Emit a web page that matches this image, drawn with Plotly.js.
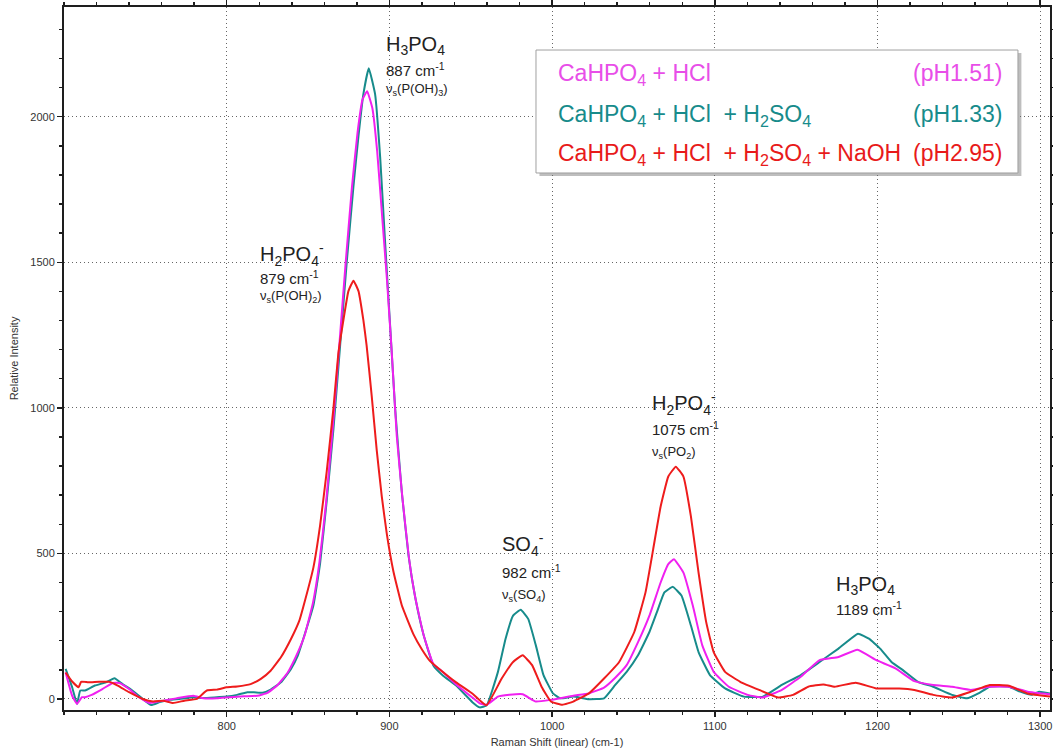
<!DOCTYPE html>
<html>
<head>
<meta charset="utf-8">
<script src="https://cdn.plot.ly/plotly-3.0.1.min.js"></script>
<style>html,body{margin:0;padding:0;background:#fff;}#chart{width:1053px;height:751px;}</style>
</head>
<body>
<div id="chart"></div>
<script>
// ---- Data ----
const seriesNames = ["CaHPO4 + HCl (pH1.51)", "CaHPO4 + HCl + H2SO4 (pH1.33)", "CaHPO4 + HCl + H2SO4 + NaOH (pH2.95)"];

const tealX = [
  701,705,708,710,713,719,725.7,731,736,742,
  748.4,753.6,758.8,765,771,779.5,785.7,794,800,806.4,
  812.6,816.8,822,827,833.3,839.5,843.7,847.1,853.3,857.4,
  861.5,865.6,869.7,873.8,877.9,881,884,887.3,891.2,894.3,
  897.3,900.4,903.5,907.6,911.7,915.8,920.9,927,933,941,
  951,955.5,959.8,966.7,971.4,976,980.7,985.3,990,994.7,
  1000.5,1005,1013,1022.6,1031.9,1038.8,1045.8,1052.8,1059.8,1064.4,
  1069,1074.2,1079.5,1085.3,1090,1097,1106.3,1117.9,1129.5,1141.2,
  1152.8,1164.4,1176,1188,1194.7,1201.6,1208.6,1215.6,1224.9,1234.2,
  1245.8,1255,1262,1269,1280.7,1287.7,1294.7,1299.3,1306
];
const tealY = [
  103,40,-17,29,29,46,57,71,51,29,
  0,-21,-11,-3,0,6,3,6,8,14,
  23,23,21,32,57,103,149,207,322,466,
  682,927,1214,1502,1761,1934,2078,2167,2078,1862,
  1574,1286,999,711,495,351,222,115,80,46,
  -11,-29,-22,93,207,286,306,275,184,82,
  19,2,8,-1,2,48,93,150,230,298,
  366,385,355,252,161,82,36,8,8,48,
  82,127,173,224,207,173,127,99,59,42,
  14,2,19,42,42,25,14,25,19
];

const magentaX = [
  701,705,708,711,713,717,723.6,730,734,740,
  746,752.6,761,769,779.5,785.7,794,802,810.6,818.8,
  825,831,837.5,843.7,847.8,853,857,861,865,869,
  873,877,880.5,883.5,886.3,889.5,892.5,895.5,898.5,901.5,
  904.5,908,912,916,921,927,933,941,951,955.5,
  959.8,966.7,973.7,981.9,990,999.3,1013,1022.6,1031.9,1038.8,
  1045.8,1052.8,1059.8,1066.7,1071.4,1074.9,1080.7,1086.5,1092.3,1099.3,
  1108.6,1120.2,1129.5,1141.2,1152.8,1164.4,1176,1187.7,1199.3,1211,
  1222.6,1234.2,1245.8,1257.4,1269,1280.7,1292.3,1306
];
const magentaY = [
  91,11,-17,6,6,14,34,55,55,34,
  6,-14,-6,2,11,2,2,6,9,11,
  21,46,91,160,217,330,470,670,920,1200,
  1490,1760,1950,2060,2088,2030,1880,1660,1440,1185,
  905,690,485,345,220,120,92,50,5,-15,
  -20,8,14,16,-9,-3,11,19,39,73,
  116,195,286,400,463,480,434,320,184,93,
  42,14,5,31,76,133,144,169,133,105,
  61,48,42,31,42,42,25,16
];

const redX = [
  701,705,709,710.5,715,721.5,727.7,733,740,748.4,
  754.7,761,767,774,781.6,787.8,794,800,806.4,814.7,
  821,827,833.3,839.5,844.7,847,853.3,857.4,861.5,865.6,
  868.6,871.7,874.8,877.9,881,884,886,889.1,892.2,895.3,
  898.4,902.5,907.6,914.8,920,925,930.6,941,951.3,959.6,
  969,976,981.9,987.7,993.5,999.3,1006.3,1013,1022.6,1031.9,
  1041.2,1050.5,1057.4,1062.1,1066.7,1071.4,1076,1080.7,1085.3,1090,
  1094.7,1099.3,1106.3,1115.6,1127.2,1138.8,1148.1,1157.4,1166.7,1173.7,
  1186.5,1199.3,1213.3,1222.6,1234.2,1245.8,1257.4,1269,1280.7,1292.3,
  1306
];
const redY = [
  91,60,40,59,57,59,59,46,23,0,
  -9,-6,-14,-6,0,29,32,40,43,51,
  69,97,143,206,270,315,452,596,783,999,
  1186,1301,1401,1437,1401,1301,1214,1042,855,696,
  567,437,322,222,170,130,103,57,17,-22,
  70,127,150,116,42,-9,-20,-9,19,70,
  127,230,366,514,661,764,798,764,627,434,
  264,161,93,59,31,5,14,42,50,42,
  56,36,36,31,14,5,25,48,45,19,
  8
];

const xTicks = [800, 900, 1000, 1100, 1200, 1300];
const yTicks = [0, 500, 1000, 1500, 2000];

// ---- Styling ----
const FONT = "Liberation Sans, Arial, sans-serif";
const cTeal = "#178b8b", cMag = "#f020f0", cRed = "#ee1c1c";

const mk = (x, y, c, name) => ({
  x: x, y: y, type: "scatter", mode: "lines", name: name,
  line: {color: c, width: 2, shape: "spline", smoothing: 0.35},
  hoverinfo: "x+y+name"
});

const traces = [
  mk(tealX, tealY, cTeal, seriesNames[1]),
  mk(magentaX, magentaY, cMag, seriesNames[0]),
  mk(redX, redY, cRed, seriesNames[2])
];

const axisCommon = {
  showgrid: true, gridcolor: "#666", griddash: "1px,3px", gridwidth: 1,
  showline: true, linecolor: "#1e1e1e", linewidth: 2, mirror: "ticks",
  ticks: "outside", ticklen: 5, tickwidth: 1.5, tickcolor: "#1e1e1e",
  zeroline: false,
  tickfont: {family: FONT, size: 11, color: "#333"}
};

const ann = [];
function label(x, y, text, size) {
  ann.push({x: x, y: y, xref: "x", yref: "y", xanchor: "left", yanchor: "middle",
    text: text, showarrow: false, borderpad: 0,
    font: {family: FONT, size: size, color: "#222"}});
}
// peak labels
label(897.3, 2246, "H<sub>3</sub>PO<sub>4</sub>", 20);
label(897.3, 2163, "887 cm<sup>-1</sup>", 15);
label(897.3, 2095, "ν<sub>s</sub>(P(OH)<sub>3</sub>)", 13);

label(819.9, 1528, "H<sub>2</sub>PO<sub>4</sub><sup>-</sup>", 20);
label(819.9, 1448, "879 cm<sup>-1</sup>", 15);
label(819.9, 1384, "ν<sub>s</sub>(P(OH)<sub>2</sub>)", 13);

label(968.4, 529, "SO<sub>4</sub><sup>-</sup>", 20);
label(968.4, 438, "982 cm<sup>-1</sup>", 15);
label(968.4, 356, "ν<sub>s</sub>(SO<sub>4</sub>)", 13);

label(1060.6, 1015, "H<sub>2</sub>PO<sub>4</sub><sup>-</sup>", 20);
label(1060.6, 929, "1075 cm<sup>-1</sup>", 15);
label(1060.6, 848, "ν<sub>s</sub>(PO<sub>2</sub>)", 13);

label(1173.9, 391, "H<sub>3</sub>PO<sub>4</sub>", 20);
label(1173.9, 309, "1189 cm<sup>-1</sup>", 15);

// legend box text
const legLeft = [
  "CaHPO<sub>4</sub> + HCl",
  "CaHPO<sub>4</sub> + HCl \u00a0+ H<sub>2</sub>SO<sub>4</sub>",
  "CaHPO<sub>4</sub> + HCl \u00a0+ H<sub>2</sub>SO<sub>4</sub> + NaOH"
];
const legRight = ["(pH1.51)", "(pH1.33)", "(pH2.95)"];
const legCol = ["#e84ee8", "#178b8b", "#e81a1a"];
const legY = [0.904, 0.846, 0.790];
for (let i = 0; i < 3; i++) {
  ann.push({x: 0.5, y: legY[i], xref: "paper", yref: "paper", xanchor: "left", yanchor: "middle",
    text: legLeft[i], showarrow: false, borderpad: 0,
    font: {family: FONT, size: 23, color: legCol[i]}});
  ann.push({x: 0.9523, y: legY[i] + 0.002, xref: "paper", yref: "paper", xanchor: "right", yanchor: "middle",
    text: legRight[i], showarrow: false, borderpad: 0,
    font: {family: FONT, size: 23, color: legCol[i]}});
}

const layout = {
  width: 1053, height: 751,
  margin: {l: 64, r: 3, t: 7, b: 41},
  paper_bgcolor: "#fff", plot_bgcolor: "#fff",
  showlegend: false,
  xaxis: Object.assign({}, axisCommon, {
    range: [700, 1306], tickvals: xTicks,
    minor: {dtick: 20, tick0: 0, ticks: "outside", ticklen: 3, tickcolor: "#1e1e1e", showgrid: false},
    title: {text: "Raman Shift (linear) (cm-1)", font: {family: FONT, size: 11, color: "#333"}, standoff: 7}
  }),
  yaxis: Object.assign({}, axisCommon, {
    range: [-38, 2377], tickvals: yTicks,
    minor: {dtick: 100, tick0: 0, ticks: "outside", ticklen: 3, tickcolor: "#1e1e1e", showgrid: false},
    title: {text: "Relative Intensity", font: {family: FONT, size: 11, color: "#333"}, standoff: 9}
  }),
  shapes: [
    {type: "rect", xref: "paper", yref: "paper", layer: "above",
     x0: 0.4822, x1: 0.9710, y0: 0.7596, y1: 0.9345,
     fillcolor: "rgba(110,110,110,0.45)", line: {width: 0}},
    {type: "rect", xref: "paper", yref: "paper", layer: "above",
     x0: 0.4787, x1: 0.9675, y0: 0.7639, y1: 0.9388,
     fillcolor: "#ffffff", line: {color: "#a0a0a0", width: 1}}
  ],
  annotations: ann
};

Plotly.newPlot("chart", traces, layout, {staticPlot: true, displayModeBar: false});
</script>
</body>
</html>
